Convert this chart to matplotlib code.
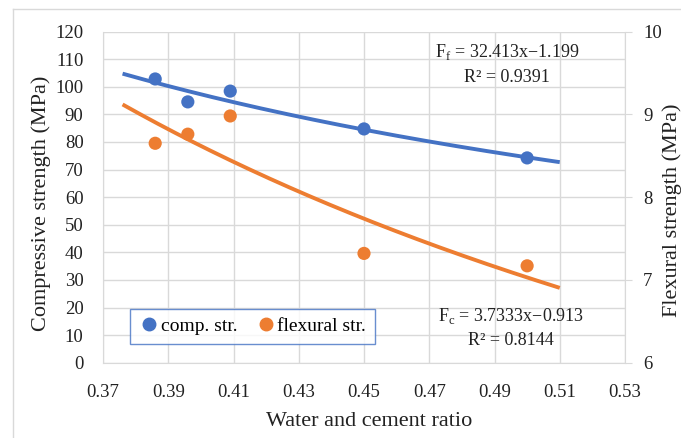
import numpy as np
import matplotlib
matplotlib.use("Agg")
import matplotlib.pyplot as plt
from matplotlib.lines import Line2D

plt.rcParams['font.family'] = ['Liberation Serif', 'DejaVu Serif']
plt.rcParams['mathtext.fontset'] = 'custom'
plt.rcParams['mathtext.rm'] = 'Liberation Serif'

# Data
wc_ratio = [0.386, 0.396, 0.409, 0.450, 0.500]
comp_str = [102.8, 94.5, 98.4, 84.7, 74.2]
flex_str = [8.65, 8.76, 8.98, 7.32, 7.17]

# Power-law trendline coefficients (as printed on the chart)
comp_coef, comp_exp = 32.413, -1.199
flex_coef, flex_exp = 3.7333, -0.913
trend_range = [0.376, 0.51]

x_ticks = [0.37, 0.39, 0.41, 0.43, 0.45, 0.47, 0.49, 0.51, 0.53]
y_left_ticks = list(range(0, 121, 10))
y_right_ticks = [6, 7, 8, 9, 10]

blue = '#4472C4'
orange = '#ED7D31'
grid = '#D9D9D9'
txt = '#222222'

W, H = 681, 438
fig = plt.figure(figsize=(W/100, H/100), dpi=100)
ax = fig.add_axes([103/W, 1-362.7/H, (625-103)/W, (362.7-31.5)/H])
ax2 = ax.twinx()

xt = np.linspace(trend_range[0], trend_range[1], 200)
ax.plot(xt, comp_coef * xt ** comp_exp, color=blue, lw=2.8, zorder=3, solid_capstyle='butt')
ax2.plot(xt, flex_coef * xt ** flex_exp, color=orange, lw=2.8, zorder=3, solid_capstyle='butt')
ax.scatter(wc_ratio, comp_str, s=90, color=blue, zorder=4, edgecolors='none')
ax2.scatter(wc_ratio, flex_str, s=90, color=orange, zorder=4, edgecolors='none')

ax.set_xlim(0.37, 0.53)
ax.set_ylim(0, 120)
ax2.set_ylim(6, 10)
ax.set_xticks(x_ticks)
ax.set_xticklabels([f"{v:.2f}" for v in x_ticks])
ax.set_yticks(y_left_ticks)
ax2.set_yticks(y_right_ticks)

ax.grid(True, color=grid, lw=1.0)
ax.set_axisbelow(True)
for a in (ax, ax2):
    for s in a.spines.values():
        s.set_visible(False)
ax.spines['left'].set_visible(True)
ax.spines['left'].set_color(grid)
ax.spines['bottom'].set_visible(True)
ax.spines['bottom'].set_color(grid)
ax2.spines['right'].set_visible(True)
ax2.spines['right'].set_color(grid)

ax.tick_params(axis='both', length=0, labelsize=13.5, colors=txt)
ax.tick_params(axis='x', pad=15)
ax.tick_params(axis='y', pad=14)
ax2.tick_params(axis='y', length=5, color=grid, labelsize=13.5, pad=8, labelcolor=txt)

fig.text(369/W, 1-422/H, 'Water and cement ratio', ha='center', va='center', fontsize=16, color=txt)
fig.text(40.7/W, 1-203/H, 'Compressive strength (MPa)', ha='center', va='center',
         rotation=90, fontsize=16, color=txt)
fig.text(672.5/W, 1-210/H, 'Flexural strength (MPa)', ha='center', va='center',
         rotation=90, fontsize=16, color=txt)

ax.text(0.4938, 112.6, r'F$_\mathrm{f}$ = 32.413x−1.199', ha='center', va='center', fontsize=13, color=txt)
ax.text(0.4938, 103.5, 'R² = 0.9391', ha='center', va='center', fontsize=13, color=txt)
ax.text(0.4951, 16.9, r'F$_\mathrm{c}$ = 3.7333x−0.913', ha='center', va='center', fontsize=13, color=txt)
ax.text(0.4951, 8.2, 'R² = 0.8144', ha='center', va='center', fontsize=13, color=txt)

handles = [Line2D([], [], marker='o', ls='none', color=blue, markersize=9),
           Line2D([], [], marker='o', ls='none', color=orange, markersize=9)]
leg = ax.legend(handles, ['comp. str.', 'flexural str.'], loc='lower left',
                bbox_to_anchor=((130-103)/522, (362.7-344)/331.2), ncol=2,
                fontsize=14, frameon=True, fancybox=False, handletextpad=0.05,
                columnspacing=0.9, handlelength=1.1, borderpad=0.45, borderaxespad=0)
leg.get_frame().set_edgecolor(blue)
leg.get_frame().set_linewidth(1.0)
leg.set_zorder(5)

# Chart border
fig.add_artist(Line2D([12.7/W, 12.7/W], [0, 1-9/H], transform=fig.transFigure, color=grid, lw=1))
fig.add_artist(Line2D([12.7/W, 1], [1-9/H, 1-9/H], transform=fig.transFigure, color=grid, lw=1))

fig.savefig('out.png', dpi=100)
